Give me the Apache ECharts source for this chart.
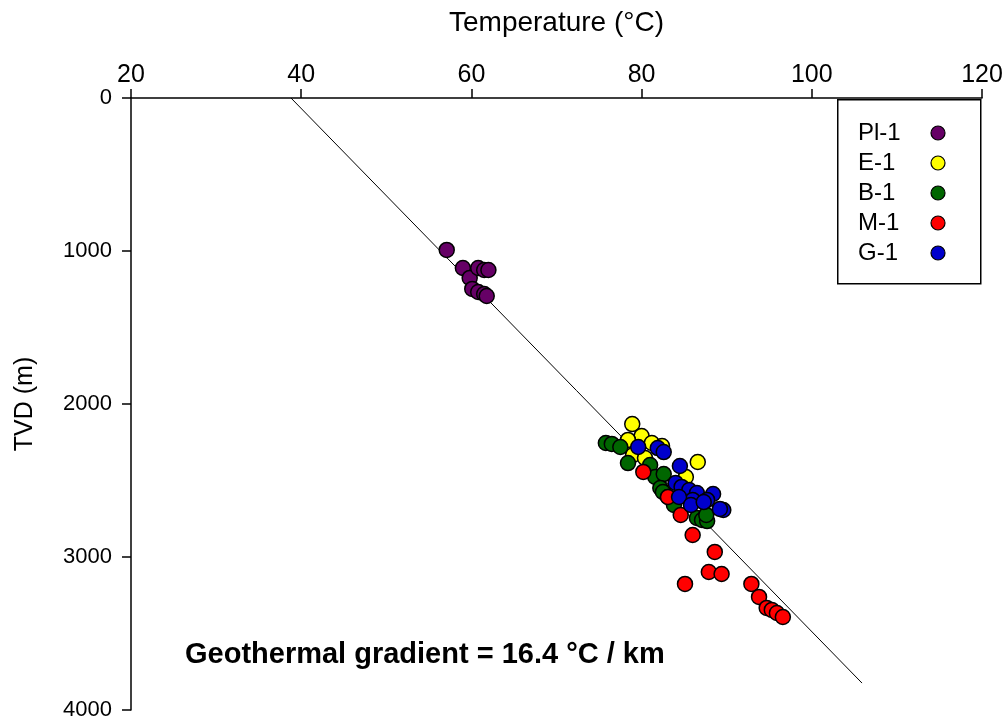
<!DOCTYPE html>
<html>
<head>
<meta charset="utf-8">
<script src="https://cdn.jsdelivr.net/npm/echarts@6/dist/echarts.min.js"></script>
<style>html,body{margin:0;padding:0;background:#fff;}#c{width:1003px;height:722px;}</style>
</head>
<body>
<div id="c"></div>
<script>
// [temperature °C, TVD m]
const pl1 = [[57.1,993],[59.0,1111],[59.8,1176],[60.8,1111],[61.5,1124],[62.0,1124],[60.1,1248],[60.8,1268],[61.5,1281],[61.8,1294]];
const e1 = [[78.9,2131],[80.0,2209],[78.4,2235],[81.2,2255],[82.4,2275],[79.0,2333],[80.4,2353],[86.6,2379],[85.2,2477],[84.9,2556]];
const b1 = [[75.8,2255],[76.5,2261],[77.5,2281],[78.4,2386],[81.0,2399],[81.6,2477],[82.6,2458],[82.2,2549],[82.5,2575],[83.1,2608],[83.8,2660],[86.5,2745],[87.1,2758],[87.7,2765],[87.6,2725]];
const m1 = [[80.2,2444],[83.1,2608],[84.6,2725],[86.0,2856],[88.6,2967],[87.9,3098],[89.4,3111],[85.1,3176],[92.9,3176],[93.8,3261],[94.7,3333],[95.3,3346],[95.9,3366],[96.6,3392]];
const g1 = [[79.6,2281],[81.9,2288],[82.6,2314],[84.5,2405],[84.0,2516],[84.7,2542],[85.6,2562],[86.5,2582],[88.4,2588],[87.7,2627],[86.0,2627],[84.4,2608],[85.8,2660],[87.3,2641],[89.6,2693],[89.2,2686]];
const trendLine = [[38.8,0],[105.9,3824]];
const seriesNames = ['Pl-1','E-1','B-1','M-1','G-1'];
const seriesColors = ['#660066','#ffff00','#006600','#ff0000','#0000cc'];
const seriesData = [pl1,e1,b1,m1,g1];
const xTitle = 'Temperature (°C)';
const yTitle = 'TVD (m)';
const note = 'Geothermal gradient = 16.4 °C / km';

const font = 'Arial, "Liberation Sans", sans-serif';
const chart = echarts.init(document.getElementById('c'));
const scatter = seriesNames.map((n,i)=>({
  name:n, type:'scatter', data:seriesData[i], symbol:'circle', symbolSize:15,
  itemStyle:{color:seriesColors[i], borderColor:'#000', borderWidth:1.5, opacity:1},
  z:3+i
}));
chart.setOption({
  animation:false,
  backgroundColor:'#fff',
  grid:{left:131, top:98, right:21, bottom:12, containLabel:false, outerBoundsMode:'none'},
  xAxis:{
    type:'value', position:'top', min:20, max:120, interval:20,
    name:xTitle, nameLocation:'middle', nameGap:61,
    nameTextStyle:{fontSize:28, color:'#000', fontFamily:font},
    axisLine:{show:true, lineStyle:{color:'#000', width:1.5}},
    axisTick:{show:true, length:9, lineStyle:{color:'#000', width:1.5}},
    axisLabel:{fontSize:25, color:'#000', fontFamily:font, margin:10, formatter:v=>String(v)},
    splitLine:{show:false}
  },
  yAxis:{
    type:'value', inverse:true, min:0, max:4000, interval:1000,
    name:yTitle, nameLocation:'middle', nameGap:93, nameRotate:90,
    nameTextStyle:{fontSize:25, color:'#000', fontFamily:font},
    axisLine:{show:true, lineStyle:{color:'#000', width:1.5}},
    axisTick:{show:true, length:9, lineStyle:{color:'#000', width:1.5}},
    axisLabel:{fontSize:22, color:'#000', fontFamily:font, margin:19, formatter:v=>String(v)},
    splitLine:{show:false}
  },
  legend:{
    data:seriesNames, orient:'vertical', left:853, top:116, align:'right',
    icon:'circle', itemWidth:14, itemHeight:14, itemGap:6,
    formatter:n=>'{a|'+n+'}',
    textStyle:{fontSize:24, color:'#000', fontFamily:font, lineHeight:24,
      rich:{a:{width:68, align:'left', fontSize:24, color:'#000', fontFamily:font, lineHeight:24}}},
    itemStyle:{borderColor:'#000', borderWidth:1.2}
  },
  graphic:[
    {type:'rect', left:837, top:99, shape:{width:143, height:184},
     style:{fill:'#fff', stroke:'#000', lineWidth:1.5}, z:-1},
    {type:'text', left:185, top:640,
     style:{text:note, fill:'#000', font:'bold 29px Arial, "Liberation Sans", sans-serif'}}
  ],
  series:[
    {type:'line', data:trendLine, symbol:'none', lineStyle:{color:'#000', width:1}, z:2, silent:true, legendHoverLink:false}
  ].concat(scatter)
});
</script>
</body>
</html>
